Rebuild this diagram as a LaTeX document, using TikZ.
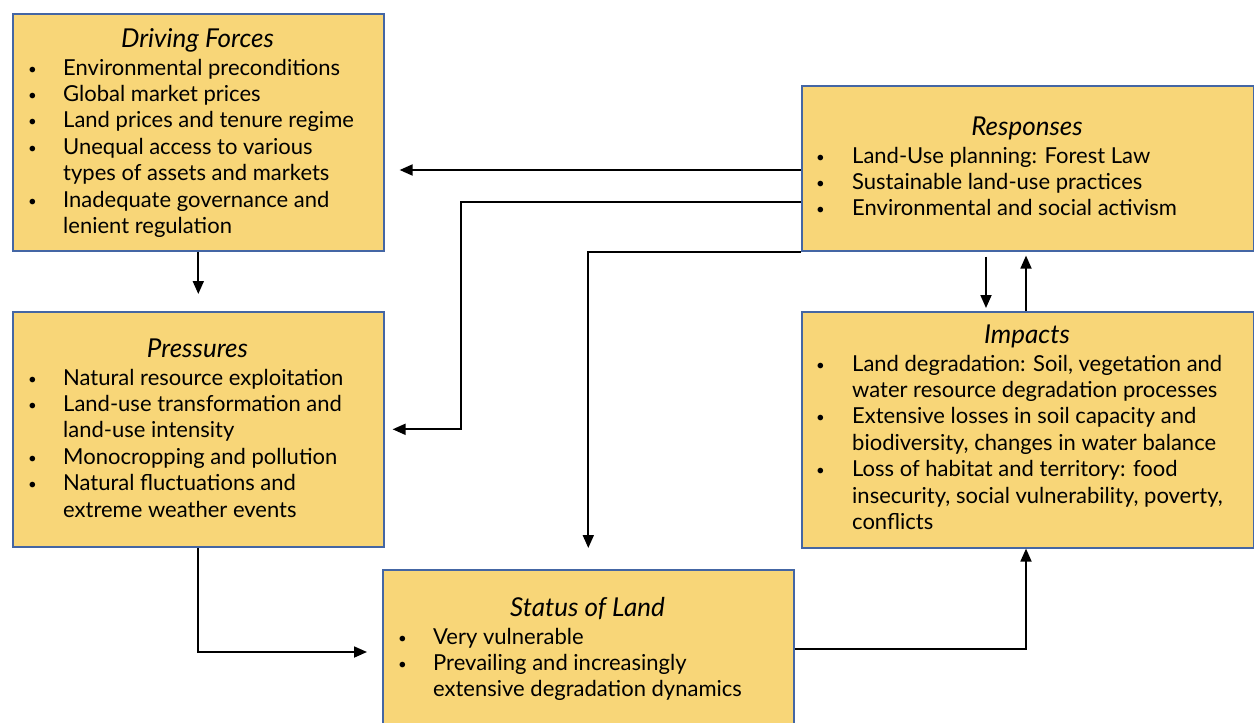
\documentclass[tikz,border=0pt]{standalone}
\usepackage{fontspec}
\setmainfont{Lato}
\usetikzlibrary{arrows.meta}
\definecolor{boxfill}{HTML}{F8D678}
\definecolor{boxline}{HTML}{4466A4}
\newcommand{\bl}{\fontsize{22}{26.4}\selectfont}
\newcommand{\ttl}[1]{{\fontsize{26}{26.4}\selectfont\itshape #1}}
\newcommand{\bu}{\raisebox{1pt}{\fontsize{15}{15}\selectfont\textbullet}}
\tikzset{
  box/.style={draw=boxline, fill=boxfill, line width=1.6pt, anchor=north west, inner sep=0pt},
  lst/.style={anchor=north west, inner sep=0pt, font=\bl, align=left},
  ttlnode/.style={anchor=base, inner sep=0pt},
  arr/.style={draw=black, line width=1.8pt, -{Triangle[length=13pt,width=11pt]}},
}
\begin{document}
\begin{tikzpicture}[x=1pt,y=-1pt]
\useasboundingbox (0,0) rectangle (1254,723);
% boxes
\node[box, minimum width=371pt, minimum height=237pt] (df) at (12,13) {};
\node[box, minimum width=371pt, minimum height=235pt] (pr) at (12,311) {};
\node[box, minimum width=452pt, minimum height=165pt] (re) at (801,85) {};
\node[box, minimum width=452pt, minimum height=236pt] (im) at (801,311) {};
\node[box, minimum width=411pt, minimum height=170pt] (st) at (382,569) {};
% titles
\node[ttlnode] (dft) at (197.5,47.5) {\ttl{Driving Forces}};
\node[ttlnode] (prt) at (197.5,357.5) {\ttl{Pressures}};
\node[ttlnode] (ret) at (1027,135.5) {\ttl{Responses}};
\node[ttlnode] (imt) at (1027,343.5) {\ttl{Impacts}};
\node[ttlnode] (stt) at (587.5,616.5) {\ttl{Status of Land}};
% lists
\node[lst] (dfl) at (28,56.5) {\begin{tabular}{@{}p{35pt}@{}l@{}}
\bu & Environmental preconditions\\
\bu & Global market prices\\
\bu & Land prices and tenure regime\\
\bu & Unequal access to various\\
 & types of assets and markets\\
\bu & Inadequate governance and\\
 & lenient regulation
\end{tabular}};
\node[lst] (prl) at (28,366.5) {\begin{tabular}{@{}p{35pt}@{}l@{}}
\bu & Natural resource exploitation\\
\bu & Land-use transformation and\\
 & land-use intensity\\
\bu & Monocropping and pollution\\
\bu & Natural fluctuations and\\
 & extreme weather events
\end{tabular}};
\node[lst] (rel) at (816,144.5) {\begin{tabular}{@{}p{36pt}@{}l@{}}
\bu & Land-Use planning: Forest Law\\
\bu & Sustainable land-use practices\\
\bu & Environmental and social activism
\end{tabular}};
\node[lst] (iml) at (816,352.5) {\begin{tabular}{@{}p{36pt}@{}l@{}}
\bu & Land degradation: Soil, vegetation and\\
 & water resource degradation processes\\
\bu & Extensive losses in soil capacity and\\
 & biodiversity, changes in water balance\\
\bu & Loss of habitat and territory: food\\
 & insecurity, social vulnerability, poverty,\\
 & conflicts
\end{tabular}};
\node[lst] (stl) at (398,625.5) {\begin{tabular}{@{}p{35pt}@{}l@{}}
\bu & Very vulnerable\\
\bu & Prevailing and increasingly\\
 & extensive degradation dynamics
\end{tabular}};
% helper coordinates
\coordinate (h170) at (0,170);
\coordinate (h202) at (0,202);
\coordinate (h652) at (0,652);
\coordinate (h649) at (0,649);
\coordinate (v461) at (461,0);
\coordinate (v986) at (986,0);
\coordinate (v1026) at (1026,0);
% connectors
\draw[arr, shorten >=17pt] (df.south) -- (pr.north);
\draw[arr, shorten >=15pt] (re.west |- h170) -- (df.east |- h170);
\draw[arr, shorten >=8pt] (re.west |- h202) -| (v461 |- pr.east) -- (pr.east);
\draw[arr, shorten >=21pt] (re.south west) -| (st.north);
\draw[arr, shorten <=5pt, shorten >=3pt] (re.south -| v986) -- (im.north -| v986);
\draw[arr, shorten >=4pt] (im.north -| v1026) -- (re.south -| v1026);
\draw[arr, shorten >=15pt] (pr.south) |- (st.west |- h652);
\draw[arr] (st.east |- h649) -| (im.south -| v1026);
\end{tikzpicture}
\end{document}
